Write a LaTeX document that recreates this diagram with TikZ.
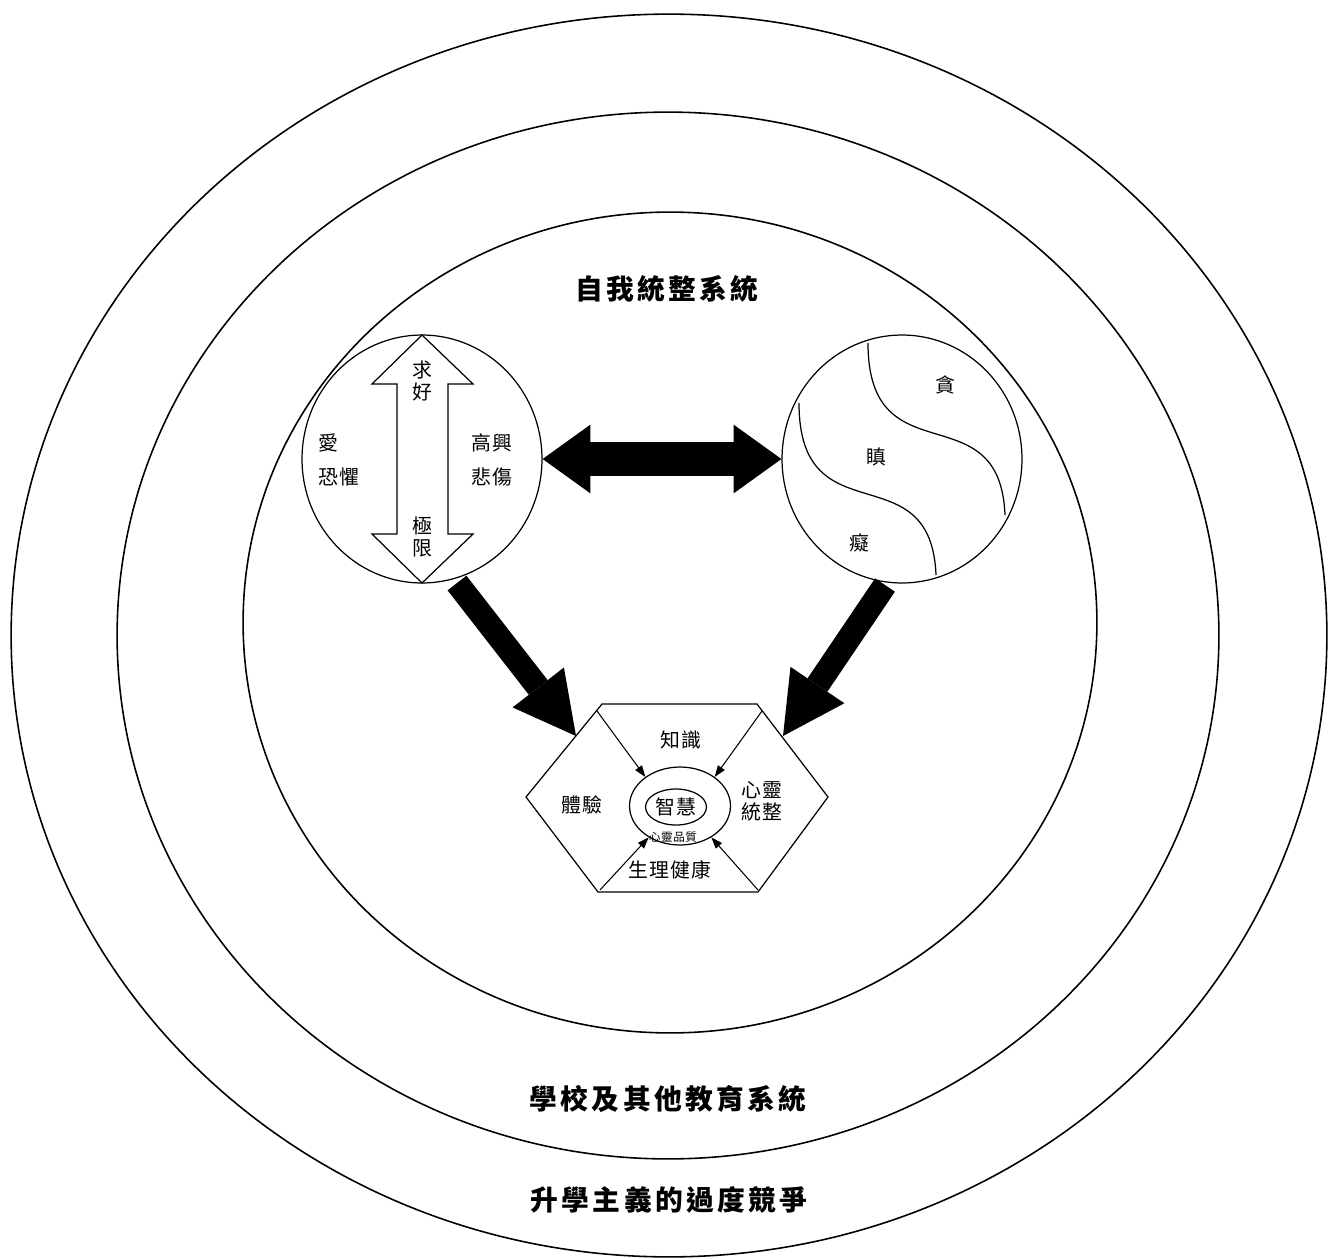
\documentclass[tikz,border=0pt]{standalone}
\usepackage{fontspec}
\usetikzlibrary{shapes.geometric,arrows.meta}
\newfontfamily\cjk{Noto Sans CJK TC}[LetterSpace=5]
\newfontfamily\cjkhead{Noto Sans CJK TC}[LetterSpace=12]
\tikzset{
  txt/.style={inner sep=0pt,font=\cjk\fontsize{11.3}{13}\selectfont,align=center},
  tiny/.style={inner sep=0pt,font=\cjk\fontsize{6.6}{8}\selectfont},
  ttl/.style={inner sep=0pt,font=\cjkhead\bfseries\fontsize{15.8}{18}\selectfont},
  orb/.style={draw,ellipse,inner sep=0pt,line width=0.7pt},
  fat/.style={line width=13.6pt,-{Triangle[length=35pt,width=37pt,line width=0pt]}},
  wide/.style={line width=19.8pt,{Triangle[length=27.2pt,width=39.1pt,line width=0pt]}-{Triangle[length=27.2pt,width=39.1pt,line width=0pt]}},
  slim/.style={line width=0.6pt,-{Triangle[length=6.5pt,width=4.6pt]}}
}
\begin{document}
\begin{tikzpicture}[x=0.02cm,y=-0.02cm,line width=0.7pt]
  \useasboundingbox (0,0) rectangle (1328,1258);
  \draw[line width=0.9pt] (669,635.5) ellipse [x radius=13.16cm,y radius=12.43cm];
  \draw[line width=0.9pt] (668,635.5) ellipse [x radius=11.02cm,y radius=10.47cm];
  \draw[line width=0.9pt] (670,622.5) ellipse [x radius=8.54cm,y radius=8.21cm];

  \node[ttl] (self) at (667,289) {自我統整系統};
  \node[ttl] (school) at (668,1099) {學校及其他教育系統};
  \node[ttl] (race) at (669,1200) {升學主義的過度競爭};

  \node[orb,minimum width=4.8cm,minimum height=4.96cm] (L) at (422,459) {};
  \node[orb,minimum width=4.8cm,minimum height=4.96cm] (R) at (902,459) {};

  \draw[fill=white] (422,335) -- (473,384) -- (448,384) -- (448,534) -- (473,534)
    -- (422,583) -- (372,534) -- (397,534) -- (397,384) -- (372,384) -- cycle;
  \node[txt] (seek) at (422,381) {求\\好};
  \node[txt] (limit) at (422,537) {極\\限};
  \node[txt,anchor=west] (love) at (318,443) {愛};
  \node[txt,anchor=west] (fear) at (318,477) {恐懼};
  \node[txt] (joy) at (492,443) {高興};
  \node[txt] (grief) at (492,477) {悲傷};

  \draw (868,343) .. controls (868,480) and (1000,390) .. (1005,515);
  \draw (799,403) .. controls (799,540) and (931,450) .. (936,575);
  \node[txt] (greed) at (945,385) {貪};
  \node[txt] (anger) at (876,457) {瞋};
  \node[txt] (folly) at (859,543) {癡};

  \draw[wide] (L) -- (R);

  \draw (526,797) -- (602,704) -- (757,704) -- (828,797) -- (758,892) -- (598,892) -- cycle;
  \coordinate (la) at (457,583);
  \coordinate (lb) at (576,736);
  \coordinate (ra) at (885,585);
  \coordinate (rb) at (783,736);
  \draw[fat] (la) -- (lb);
  \draw[fat] (ra) -- (rb);

  \node[orb,minimum width=2.02cm,minimum height=1.56cm] (W) at (680,806) {};
  \node[orb,minimum width=1.22cm,minimum height=0.72cm,txt] (wis) at (676,807) {智慧};
  \node[tiny] (qual) at (673,837) {心靈品質};
  \node[txt] (know) at (681,740) {知識};
  \node[txt] (exp) at (582,805) {體驗};
  \node[txt,font=\cjk\fontsize{11.3}{12.5}\selectfont] (spirit) at (762,801) {心靈\\統整};
  \node[txt] (body) at (670,870) {生理健康};

  \coordinate (k1) at (597,711);
  \coordinate (k2) at (762,711);
  \coordinate (b1) at (600,890);
  \coordinate (b2) at (758,890);
  \draw[slim] (k1) -- (W.140);
  \draw[slim] (k2) -- (W.40);
  \draw[slim] (b1) -- (W.-135);
  \draw[slim] (b2) -- (W.-45);
\end{tikzpicture}
\end{document}
